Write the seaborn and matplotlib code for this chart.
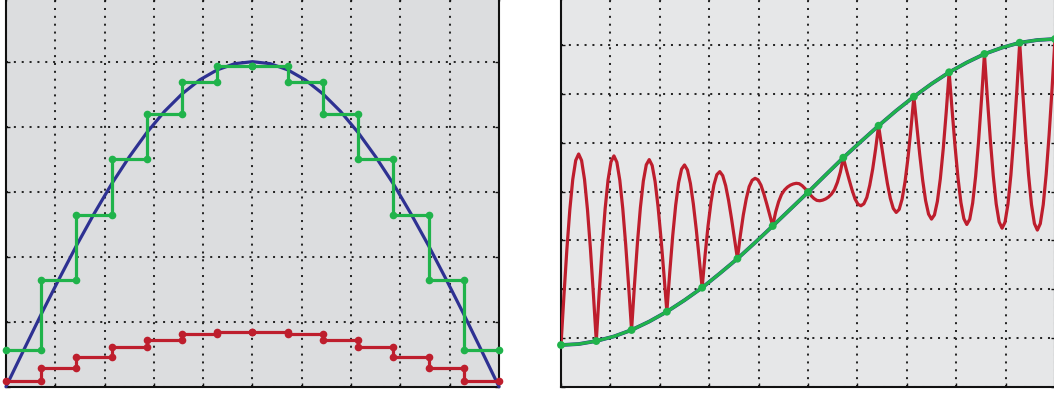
import matplotlib
matplotlib.use("Agg")
import matplotlib.pyplot as plt
from matplotlib.ticker import MultipleLocator
import pandas as pd
import seaborn as sns

# ---------------- left panel: half sine, sample-and-hold, scaled hold ----------------
sine_pos = [i / 2 for i in range(29)]
sine_vals = [0.000, 0.112, 0.223, 0.330, 0.434, 0.532, 0.624, 0.707, 0.782, 0.847,
             0.901, 0.944, 0.975, 0.994, 1.000, 0.994, 0.975, 0.944, 0.901, 0.847,
             0.782, 0.707, 0.624, 0.532, 0.434, 0.330, 0.223, 0.112, 0.000]
hold_levels = [0.112, 0.329, 0.529, 0.702, 0.840, 0.936, 0.986,
               0.986, 0.936, 0.840, 0.702, 0.529, 0.329, 0.112]
scaled_levels = [0.019, 0.058, 0.092, 0.121, 0.145, 0.161, 0.168,
                 0.168, 0.161, 0.145, 0.121, 0.092, 0.058, 0.019]

# ---------------- right panel: rising ramp and the oscillating response ----------------
ramp_pos = [i / 2 for i in range(29)]
ramp_vals = [0.854, 0.874, 0.936, 1.030, 1.162, 1.335, 1.537, 1.772, 2.029, 2.321,
             2.623, 2.953, 3.293, 3.638, 3.984, 4.340, 4.693, 5.024, 5.348, 5.657,
             5.943, 6.206, 6.443, 6.643, 6.818, 6.948, 7.049, 7.104, 7.125]
sample_pos = list(range(15))
sample_vals = [0.854, 0.936, 1.162, 1.537, 2.029, 2.623, 3.293, 3.984,
               4.693, 5.348, 5.943, 6.443, 6.818, 7.049, 7.125]
wave_pos = [k / 12 for k in range(169)]
wave_vals = [
    0.854, 1.869, 2.815, 3.626, 4.248, 4.637, 4.769, 4.635, 4.246, 3.631, 2.835, 1.913,
    0.936, 1.931, 2.854, 3.640, 4.237, 4.608, 4.730, 4.600, 4.231, 3.653, 2.912, 2.062,
    1.162, 2.096, 2.950, 3.671, 4.214, 4.547, 4.654, 4.534, 4.204, 3.693, 3.044, 2.307,
    1.537, 2.356, 3.098, 3.718, 4.180, 4.458, 4.544, 4.441, 4.166, 3.747, 3.223, 2.637,
    2.029, 2.698, 3.291, 3.779, 4.135, 4.346, 4.407, 4.325, 4.119, 3.813, 3.440, 3.033,
    2.623, 3.105, 3.519, 3.850, 4.100, 4.230, 4.270, 4.240, 4.130, 3.950, 3.740, 3.520,
    3.293, 3.580, 3.790, 3.940, 4.030, 4.090, 4.130, 4.155, 4.168, 4.160, 4.120, 4.060,
    3.984, 3.918, 3.858, 3.818, 3.810, 3.823, 3.848, 3.888, 3.948, 4.038, 4.188, 4.398,
    4.693, 4.458, 4.238, 4.028, 3.848, 3.738, 3.708, 3.748, 3.878, 4.128, 4.459, 4.873,
    5.348, 4.945, 4.538, 4.165, 3.859, 3.653, 3.571, 3.632, 3.843, 4.199, 4.687, 5.280,
    5.943, 5.341, 4.755, 4.231, 3.812, 3.537, 3.434, 3.520, 3.798, 4.260, 4.880, 5.622,
    6.443, 5.671, 4.934, 4.285, 3.774, 3.444, 3.324, 3.431, 3.764, 4.307, 5.028, 5.882,
    6.818, 5.916, 5.066, 4.325, 3.747, 3.378, 3.248, 3.370, 3.741, 4.338, 5.124, 6.047,
    7.049, 6.065, 5.143, 4.347, 3.732, 3.343, 3.209, 3.341, 3.730, 4.352, 5.163, 6.109,
    7.125,
]

RED = "#be1e2d"
GREEN = "#20b34b"
BLUE = "#2e3192"


def staircase(levels):
    xs, ys = [], []
    for i, v in enumerate(levels):
        xs += [i, i + 1]
        ys += [v, v]
    return pd.DataFrame({"x": xs, "y": ys})


def style_axes(ax, face, ymax, ystep):
    ax.set_facecolor(face)
    ax.set_xlim(0, 14)
    ax.set_ylim(0, ymax)
    ax.xaxis.set_major_locator(MultipleLocator(1.4))
    ax.yaxis.set_major_locator(MultipleLocator(ystep))
    ax.set_xticklabels([])
    ax.set_yticklabels([])
    ax.set_xlabel("")
    ax.set_ylabel("")
    ax.tick_params(direction="in", length=3, width=1.0, color="#111111",
                   top=True, right=True, bottom=True, left=True)
    ax.grid(True, color="#262626", linestyle=(0, (1, 2.9)), linewidth=1.45)
    ax.set_axisbelow(True)
    for s in ax.spines.values():
        s.set_color("#111111")
        s.set_linewidth(1.5)
        s.set_visible(True)


sns.set_theme(style="white")
plt.rcParams["font.family"] = ["DejaVu Sans"]

fig = plt.figure(figsize=(10.54, 3.97), dpi=100)
fig.patch.set_facecolor("white")
ax1 = fig.add_axes([6 / 1054, 10.3 / 397, 493 / 1054, 390 / 397])
ax2 = fig.add_axes([561 / 1054, 10.3 / 397, 494 / 1054, 390.4 / 397])

# left panel
sns.lineplot(x=sine_pos, y=sine_vals, ax=ax1, color=BLUE, lw=2.3, sort=False,
             estimator=None, zorder=3, clip_on=False)
hold_df = staircase(hold_levels)
sns.lineplot(data=hold_df, x="x", y="y", ax=ax1, color=GREEN, lw=2.3, sort=False,
             estimator=None, marker="o", markersize=5.5, markeredgewidth=0,
             zorder=4, clip_on=False)
scaled_df = staircase(scaled_levels)
sns.lineplot(data=scaled_df, x="x", y="y", ax=ax1, color=RED, lw=2.3, sort=False,
             estimator=None, marker="o", markersize=5.5, markeredgewidth=0,
             zorder=4, clip_on=False)
style_axes(ax1, "#dcdddf", 1.2, 0.2)

# right panel
sns.lineplot(x=wave_pos, y=wave_vals, ax=ax2, color=RED, lw=2.3, sort=False,
             estimator=None, zorder=3)
sns.lineplot(x=ramp_pos, y=ramp_vals, ax=ax2, color=BLUE, lw=2.7, sort=False,
             estimator=None, zorder=4)
sns.lineplot(x=ramp_pos, y=ramp_vals, ax=ax2, color=GREEN, lw=2.3, sort=False,
             estimator=None, zorder=5)
sns.scatterplot(x=sample_pos, y=sample_vals, ax=ax2, color=GREEN, s=32,
                edgecolor="none", zorder=6, clip_on=False)
style_axes(ax2, "#e6e7e8", 8, 1)

fig.savefig("out.png", dpi=100)
